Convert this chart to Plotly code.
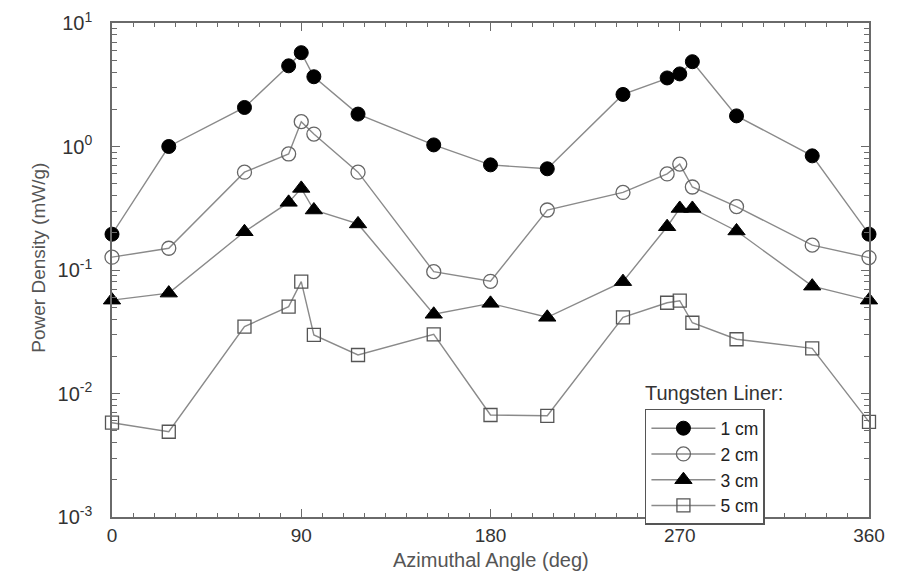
import plotly.graph_objects as go

angle_deg = [0, 27, 63, 84, 90, 96, 117, 153, 180, 207, 243, 264, 270, 276, 297, 333, 360]

liner_1cm = [0.195, 1.0, 2.07, 4.5, 5.75, 3.67, 1.83, 1.03, 0.71, 0.66, 2.64, 3.59, 3.87, 4.86, 1.77, 0.84, 0.195]
liner_2cm = [0.127, 0.15, 0.62, 0.87, 1.59, 1.26, 0.62, 0.097, 0.081, 0.306, 0.425, 0.60, 0.72, 0.47, 0.326, 0.159, 0.126]
liner_3cm = [0.057, 0.065, 0.204, 0.353, 0.458, 0.306, 0.236, 0.0438, 0.0537, 0.0414, 0.0805, 0.224, 0.315, 0.315, 0.207, 0.074, 0.057]
liner_5cm = [0.0058, 0.0049, 0.0348, 0.0505, 0.0805, 0.0298, 0.0205, 0.0301, 0.0067, 0.0066, 0.0414, 0.0543, 0.0564, 0.0374, 0.0275, 0.0232, 0.0059]

series_names = ["1 cm", "2 cm", "3 cm", "5 cm"]
x_tick_vals = [0, 90, 180, 270, 360]
x_tick_text = ["0", "90", "180", "270", "360"]
y_tick_vals = [1e-3, 1e-2, 1e-1, 1e0, 1e1]
y_tick_text = ["10<sup>-3</sup>", "10<sup>-2</sup>", "10<sup>-1</sup>", "10<sup>0</sup>", "10<sup>1</sup>"]
y_minor_vals = [m * 10.0 ** e for e in range(-3, 1) for m in range(2, 10)]

FONT = "Liberation Sans, Arial, sans-serif"
LINE_GRAY = "#8a8a8a"
AXIS_GRAY = "#6a6a6a"

styles = [
    dict(symbol="circle", size=14, color="black", filled=True),
    dict(symbol="circle-open", size=14, color="#666666", filled=False),
    dict(symbol="triangle-up", size=15, color="black", filled=True),
    dict(symbol="square-open", size=13, color="#555555", filled=False),
]

fig = go.Figure()
for name, vals, st in zip(series_names, [liner_1cm, liner_2cm, liner_3cm, liner_5cm], styles):
    if st["filled"]:
        marker = dict(symbol=st["symbol"], size=st["size"], color=st["color"], line=dict(color="black", width=1))
    else:
        marker = dict(symbol=st["symbol"], size=st["size"], color=st["color"], line=dict(width=1.3, color=st["color"]))
    fig.add_trace(go.Scatter(
        x=angle_deg, y=vals, name=name, mode="lines+markers",
        line=dict(color=LINE_GRAY, width=1.4),
        marker=marker, cliponaxis=False,
    ))

fig.update_layout(
    width=892, height=564,
    margin=dict(l=104, r=31, t=15, b=55, autoexpand=False),
    paper_bgcolor="white", plot_bgcolor="white",
    font=dict(family=FONT, color="#333333"),
    showlegend=True,
    legend=dict(
        x=0.704, y=0.219, xanchor="left", yanchor="top",
        bordercolor="#555555", borderwidth=1.5, bgcolor="white",
        font=dict(size=17.5, color="#222222", family=FONT),
        itemwidth=64, tracegroupgap=0,
    ),
    xaxis=dict(
        range=[0, 360], tickvals=x_tick_vals, ticktext=x_tick_text, automargin=False,
        ticks="inside", ticklen=8, tickwidth=1.2, tickcolor=AXIS_GRAY,
        showline=True, linecolor=AXIS_GRAY, linewidth=1.5, mirror="allticks",
        showgrid=False, zeroline=False,
        tickfont=dict(size=19, color="#333333", family=FONT),
        minor=dict(ticks="inside", ticklen=4, tickcolor=AXIS_GRAY, tick0=0, dtick=10, showgrid=False),
    ),
    yaxis=dict(
        type="log", range=[-3, 1], tickvals=y_tick_vals, ticktext=y_tick_text, automargin=False,
        ticks="inside", ticklen=8, tickwidth=1.2, tickcolor=AXIS_GRAY,
        showline=True, linecolor=AXIS_GRAY, linewidth=1.5, mirror="allticks",
        showgrid=False, zeroline=False,
        tickfont=dict(size=20, color="#333333", family=FONT),
        ticklabelstandoff=14,
        minor=dict(ticks="inside", ticklen=5, tickcolor=AXIS_GRAY, tickvals=y_minor_vals, showgrid=False),
    ),
    annotations=[
        dict(text="Azimuthal Angle (deg)", xref="paper", yref="paper", x=0.5, y=-0.087,
             xanchor="center", yanchor="middle", showarrow=False,
             font=dict(size=20, color="#555555", family=FONT)),
        dict(text="Power Density (mW/g)", xref="paper", yref="paper", x=-0.097, y=0.524,
             xanchor="center", yanchor="middle", textangle=-90, showarrow=False,
             font=dict(size=19, color="#555555", family=FONT)),
        dict(text="Tungsten Liner:", xref="paper", yref="paper", x=0.702, y=0.251,
             xanchor="left", yanchor="middle", showarrow=False,
             font=dict(size=20, color="#333333", family=FONT)),
    ],
)

fig.write_html("out.html")
